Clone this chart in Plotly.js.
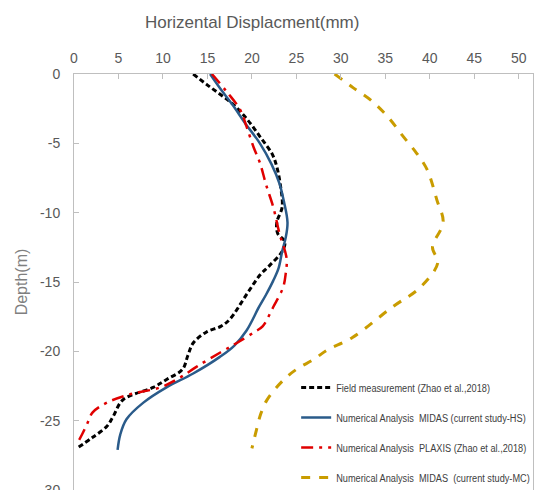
<!DOCTYPE html>
<html>
<head>
<meta charset="utf-8">
<script src="https://cdn.plot.ly/plotly-3.0.1.min.js"></script>
<style>html,body{margin:0;padding:0;background:#fff;}#chart{width:540px;height:490px;}</style>
</head>
<body>
<div id="chart"></div>
<script>
// Field measurement (Zhao et al., 2018)
const fieldX = [13.4, 15.0, 16.5, 17.9, 19.5, 21.0, 22.3, 22.8, 23.2, 23.4, 22.8, 22.9, 23.7, 23.4, 22.0, 20.9, 19.5, 17.5, 16.5, 14.9, 13.4, 12.8, 12.2, 10.5, 8.9, 5.5, 4.4, 3.7, 2.1, 0.3];
const fieldY = [0, -0.8, -1.5, -2.2, -3.3, -4.6, -5.8, -6.7, -8.0, -9.6, -10.7, -11.5, -12.1, -12.8, -13.8, -14.5, -15.8, -17.7, -18.2, -18.6, -19.4, -20.3, -21.3, -22.0, -22.6, -23.5, -24.7, -25.4, -26.2, -27.0];
// Numerical Analysis MIDAS (current study-HS)
const hsX = [15.3, 16.5, 17.8, 19.3, 20.9, 22.2, 23.1, 23.6, 24.0, 23.8, 23.4, 23.0, 22.4, 21.6, 20.8, 19.4, 18.0, 16.4, 13.4, 10.4, 7.8, 5.9, 5.2, 4.9];
const hsY = [0, -1.1, -2.2, -3.6, -5.0, -6.5, -7.9, -9.2, -10.7, -11.8, -12.8, -14.0, -14.9, -15.9, -16.8, -18.5, -19.6, -20.4, -21.6, -22.6, -23.7, -24.9, -26.0, -27.1];
// Numerical Analysis PLAXIS (Zhao et al., 2018)
const plaxisX = [15.5, 17.2, 18.7, 19.4, 20.2, 20.9, 21.6, 22.4, 23.1, 23.9, 23.8, 23.5, 22.4, 21.2, 20.3, 18.3, 16.4, 13.8, 11.9, 9.7, 6.3, 3.7, 2.1, 1.5, 0.9, 0.3];
const plaxisY = [0, -1.3, -2.6, -3.8, -5.3, -6.4, -8.0, -9.6, -11.5, -13.3, -14.4, -15.4, -16.8, -18.2, -18.6, -19.4, -20.1, -21.1, -21.9, -22.6, -23.1, -23.7, -24.4, -25.2, -26.0, -26.7];
// Numerical Analysis MIDAS (current study-MC)
const mcX = [29.3, 31.4, 33.4, 35.3, 37.0, 38.5, 39.7, 40.8, 41.5, 40.3, 40.9, 38.9, 35.8, 31.3, 28.5, 26.9, 25.0, 23.5, 21.7, 21.0, 20.5, 20.0];
const mcY = [0, -1.0, -1.9, -3.1, -4.5, -5.7, -6.9, -9.1, -10.7, -12.5, -13.6, -15.4, -16.8, -19.0, -19.9, -20.6, -21.3, -22.1, -23.5, -24.5, -25.7, -27.0];

const seriesNames = [
  "Field measurement (Zhao et al.,2018)",
  "Numerical Analysis  MIDAS (current study-HS)",
  "Numerical Analysis  PLAXIS (Zhao et al.,2018)",
  "Numerical Analysis  MIDAS  (current study-MC)"
];
const xTicks = [0, 5, 10, 15, 20, 25, 30, 35, 40, 45, 50];
const yTicks = [0, -5, -10, -15, -20, -25, -30];

const traces = [
  {x: fieldX, y: fieldY, name: seriesNames[0], legendgroup: "a", mode: "lines",
   line: {color: "#000000", width: 3, dash: "5px,3px", shape: "spline"}},
  {x: hsX, y: hsY, name: seriesNames[1], legendgroup: "b", mode: "lines",
   line: {color: "#2a5b8a", width: 2.5, shape: "spline"}},
  {x: plaxisX, y: plaxisY, name: seriesNames[2], legendgroup: "c", mode: "lines",
   line: {color: "#e00000", width: 2.5, dash: "12px,6px,3px,6px", shape: "spline"}},
  {x: mcX, y: mcY, name: seriesNames[3], legendgroup: "d", mode: "lines",
   line: {color: "#c99c00", width: 3, dash: "9px,9px", shape: "spline"}}
];

const layout = {
  width: 540, height: 490,
  margin: {l: 74, r: 7, t: 74, b: 0, autoexpand: false},
  paper_bgcolor: "#ffffff", plot_bgcolor: "#ffffff",
  font: {family: "Liberation Sans, Arial, sans-serif", color: "#595959"},
  showlegend: true,
  title: {text: "Horizental Displacment(mm)", xref: "container", yref: "container",
          x: 0.467, xanchor: "center", y: 0.955, yanchor: "middle",
          font: {size: 17, color: "#595959", family: "Liberation Sans, Arial, sans-serif"}},
  xaxis: {side: "top", range: [0, 51.6], tickvals: xTicks, ticktext: xTicks.map(String),
          automargin: false, ticklabeloverflow: "allow",
          showgrid: false, zeroline: false, showline: true, linecolor: "#bfbfbf", linewidth: 1,
          ticks: "inside", ticklen: 5, tickcolor: "#bfbfbf",
          tickfont: {size: 14, color: "#595959"}, ticklabelstandoff: 4},
  yaxis: {range: [-30, 0], tickvals: yTicks, ticktext: yTicks.map(String),
          automargin: false, ticklabeloverflow: "allow",
          showgrid: false, zeroline: false, showline: true, linecolor: "#bfbfbf", linewidth: 1,
          mirror: true, ticks: "inside", ticklen: 5, tickcolor: "#bfbfbf",
          tickfont: {size: 14, color: "#595959"}, ticklabelstandoff: 10,
          title: {text: "Depth(m)", standoff: 8, font: {size: 16, color: "#7f7f7f"}}},
  legend: {x: 0.484, xanchor: "left", y: 0.281, yanchor: "top", traceorder: "grouped",
           tracegroupgap: 11, bgcolor: "rgba(255,255,255,0)",
           font: {family: "Liberation Sans, Arial, sans-serif", size: 11.5, color: "#404040"}}
};

Plotly.newPlot("chart", traces, layout, {displayModeBar: false, staticPlot: true}).then(function () {
  // condense legend text horizontally (reference uses a narrow font)
  document.querySelectorAll("#chart .legendtext").forEach(function (t) {
    var x0 = parseFloat(t.getAttribute("x")) || 0;
    t.setAttribute("transform", "translate(" + x0 + ",0) scale(0.8,1) translate(" + (-x0) + ",0)");
  });
});
</script>
</body>
</html>
